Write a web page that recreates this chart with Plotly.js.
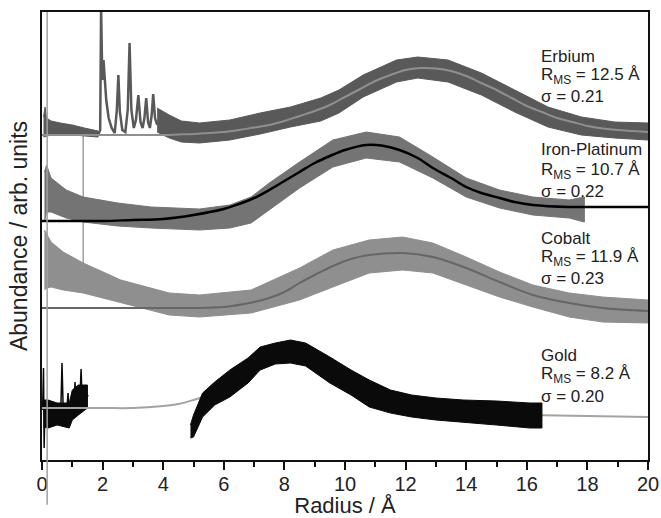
<!DOCTYPE html>
<html>
<head>
<meta charset="utf-8">
<script src="https://cdn.plot.ly/plotly-3.0.1.min.js"></script>
<style>html,body{margin:0;padding:0;background:#fff}#chart{width:661px;height:518px}</style>
</head>
<body>
<div id="chart"></div>
<script>
// ---------- Erbium ----------
const erFitX = [0,1,2,3,4,4.5,5,5.5,6,6.5,7,7.5,8,8.5,9,9.5,10,10.5,11,11.5,12,12.5,13,13.5,14,14.5,15,15.5,16,16.5,17,17.5,18,18.5,19,19.5,20];
const erFitY = [325,325,325,325,325,325.5,326,327,328,330,332.5,335,339,344,349,355,363,371,379,385,390,392,391.5,389,384,377,370,362,354,348,342,338,334,331.5,330,329,328];
const erLeftX = [0.05,0.1,0.15,0.3,0.6,1.0,1.4,1.85];
const erLeftTop = [343,353,342,339,337,335,332,329];
const erLeftBot = [323,323,324,325,326,325,324,323];
const erPeakX = [1.85,1.92,1.95,1.99,2.03,2.07,2.12,2.2,2.3,2.4,2.47,2.52,2.57,2.65,2.75,2.83,2.89,2.95,3.03,3.1,3.18,3.25,3.32,3.38,3.44,3.5,3.56,3.62,3.67,3.73,3.8];
const erPeakY = [325,330,452,380,400,382,360,342,332,327,350,385,348,330,328,350,417,350,332,340,365,338,332,342,362,338,332,345,366,342,335];
const erBandX = [3.8,4.2,4.6,5.2,6.2,7.2,8.2,9.2,9.8,10.6,11.7,12.4,13.4,14.5,15.6,16.7,17.8,18.9,20];
const erBandTop = [352,345,339,337,340,347,353,362,370,385,400,403,400,387,370,353,343,338,337];
const erBandBot = [328,322,318,317,320,326,333,339,347,363,378,382,378,365,348,333,325,322,320];

// ---------- Iron-Platinum ----------
const feFitX = [0,1,2,3,4,5,6,6.5,7,7.5,8,8.5,9,9.5,10,10.7,11.2,11.8,12.4,12.9,13.5,14,14.5,15.1,15.6,16.2,17.4,18.5,20];
const feFitY = [239,239,239,240,241,245,251,256,262,270,279,288,297,304,310,315,314.5,310,302,292,282,273,267,262,258,255,253,253,253];
const feBandX = [0.08,0.15,0.3,0.8,1.36,2.5,3.6,5.2,6.2,6.9,7.5,8.5,9.6,10.7,11.8,12.9,14.0,15.1,16.2,17.4,17.9];
const feBandTop = [288,295,282,270,263,257,253,251,255,263,277,298,320,328,323,303,282,270,263,260,263];
const feBandBot = [238,248,248,242,238,234,232,230,232,237,250,272,293,302,298,282,263,252,245,242,238];

// ---------- Cobalt ----------
const coFitX = [0,2,4,5,6,7,7.5,8,8.5,9,9.6,10.2,10.8,11.9,12.9,14,15.1,16.2,17.4,18.5,20];
const coFitY = [152,152,152,152,153,158,162,168,177,185,194,201,205,207,203,192,178,165,157,152,149];
const coBandX = [0.08,0.15,0.3,0.7,1.36,2.6,4.2,5.2,6.9,8.5,9.6,10.8,11.9,12.9,14.0,15.1,16.2,17.4,18.5,20];
const coBandTop = [230,226,218,208,197,180,167,165,170,192,210,220,223,217,203,188,175,167,163,160];
const coBandBot = [170,172,173,170,167,157,145,143,147,160,173,187,190,187,175,163,153,143,138,137];

// ---------- Gold ----------
const auFitX = [0,1,2,3,4,4.5,5,5.5,6,6.5,7,7.5,8,8.2,8.5,9,9.5,10,10.5,11,11.5,12,12.5,13,14,15,16,17,18,19,20];
const auFitY = [52,52,52,52,54,56,60,65,73,83,93,101,106,107,106,102,94,84,73,64,58,53,50,48,46.5,45.5,45,44.5,44,43.5,43];
const auLeftX = [0.05,0.2,0.5,0.9,1.0,1.2,1.5];
const auLeftTop = [60,60,57,57,70,75,75];
const auLeftBot = [33,32,35,32,40,45,52];
const auSpikeX = [0.02,0.05,0.07,0.1,0.3,0.5,0.62,0.66,0.7,0.83,0.86,0.9,1.05,1.09,1.13,1.25,1.29,1.33,1.4,1.45,1.52];
const auSpikeY = [50,92,12,55,48,50,48,97,50,55,67,45,55,78,50,60,91,55,75,60,65];
const auBandX = [4.9,5.0,5.3,5.7,6.2,6.8,7.2,7.7,8.2,8.7,9.5,10.2,10.8,11.5,12.2,13.0,13.9,15.0,16.1,16.5];
const auBandTop = [35,45,67,78,90,102,113,117,120,117,103,90,80,70,65,62,60,59,57,57];
const auBandBot = [22,23,43,55,63,77,90,96,97,94,77,65,53,47,43,40,38,35,32,32];

// ---------- labels ----------
const labelNames = ['Erbium','Iron-Platinum','Cobalt','Gold'];
const labelR = ['12.5','10.7','11.9','8.2'];
const labelSigma = ['0.21','0.22','0.23','0.20'];
const labelY = [[404,384,364],[311,289,269],[222,202,182],[105,85,64]];
const labelX = 16.4;

// vertical marker lines
const vLineX = [0.17, 1.36];
const vLineY0 = [-0.1, 170];   // first in paper fraction below axis, second in data
const vLineY1 = [1.0, 325];

const xTickVals = [0,2,4,6,8,10,12,14,16,18,20];

function band(x, top, bot, color) {
  return {
    x: x.concat(x.slice().reverse()),
    y: top.concat(bot.slice().reverse()),
    mode: 'lines', fill: 'toself', fillcolor: color,
    line: {color: color, width: 1}, hoverinfo: 'skip', showlegend: false
  };
}
function line(x, y, color, w, shape) {
  return {x: x, y: y, mode: 'lines', line: {color: color, width: w, shape: shape || 'linear'},
          hoverinfo: 'skip', showlegend: false};
}

const cEr = '#595959', cErFit = '#8f8f8f';
const cFe = '#747474', cFeFit = '#000000';
const cCo = '#8f8f8f', cCoFit = '#666666';
const cAu = '#0a0a0a', cAuFit = '#a3a3a3';

const traces = [
  band(auLeftX, auLeftTop, auLeftBot, cAu),
  line(auSpikeX, auSpikeY, cAu, 1.5),
  line(auFitX, auFitY, cAuFit, 2, 'spline'),
  band(auBandX, auBandTop, auBandBot, cAu),
  band(coBandX, coBandTop, coBandBot, cCo),
  line(coFitX, coFitY, cCoFit, 2, 'spline'),
  band(feBandX, feBandTop, feBandBot, cFe),
  line(feFitX, feFitY, cFeFit, 2.5, 'spline'),
  band(erLeftX, erLeftTop, erLeftBot, cEr),
  band(erBandX, erBandTop, erBandBot, cEr),
  line(erPeakX, erPeakY, cEr, 2.5),
  line(erFitX, erFitY, cErFit, 2, 'spline')
];

const annotations = [];
const tf = {family: 'Liberation Sans, Arial, sans-serif', size: 17, color: '#222'};
for (let i = 0; i < labelNames.length; i++) {
  const texts = [labelNames[i], 'R<sub>MS</sub> = ' + labelR[i] + ' Å', 'σ = ' + labelSigma[i]];
  for (let j = 0; j < 3; j++) {
    annotations.push({x: labelX, y: labelY[i][j], xref: 'x', yref: 'y', text: texts[j],
      showarrow: false, xanchor: 'left', yanchor: 'middle', font: tf});
  }
}

const shapes = [
  {type: 'line', xref: 'x', yref: 'paper', x0: vLineX[0], x1: vLineX[0], y0: vLineY0[0], y1: vLineY1[0],
   line: {color: '#a0a0a0', width: 1.5}, layer: 'above'},
  {type: 'line', xref: 'x', yref: 'y', x0: vLineX[1], x1: vLineX[1], y0: vLineY0[1], y1: vLineY1[1],
   line: {color: '#a0a0a0', width: 1.5}, layer: 'below'}
];

const layout = {
  width: 661, height: 518,
  margin: {l: 42, r: 13, t: 12, b: 58},
  paper_bgcolor: '#fff', plot_bgcolor: '#fff',
  showlegend: false,
  font: {family: 'Liberation Sans, Arial, sans-serif', color: '#222'},
  xaxis: {
    range: [0, 20], tickvals: xTickVals, ticktext: xTickVals.map(String),
    ticks: 'outside', ticklen: 8, tickwidth: 2, tickcolor: '#111',
    ticklabelstandoff: -3,
    minor: {dtick: 1, tick0: 0, ticks: 'outside', ticklen: 5, tickwidth: 2, tickcolor: '#111'},
    showline: true, linecolor: '#111', linewidth: 2, mirror: true,
    showgrid: false, zeroline: false,
    tickfont: {size: 20, color: '#222'},
    title: {text: 'Radius / Å', font: {size: 22, color: '#222'}, standoff: 12}
  },
  yaxis: {
    range: [0, 448], showticklabels: false, ticks: '',
    showline: true, linecolor: '#111', linewidth: 2, mirror: true,
    showgrid: false, zeroline: false,
    title: {text: 'Abundance / arb. units', font: {size: 23, color: '#222'}, standoff: 6}
  },
  annotations: annotations,
  shapes: shapes
};

Plotly.newPlot('chart', traces, layout, {displayModeBar: false, staticPlot: true});
</script>
</body>
</html>
